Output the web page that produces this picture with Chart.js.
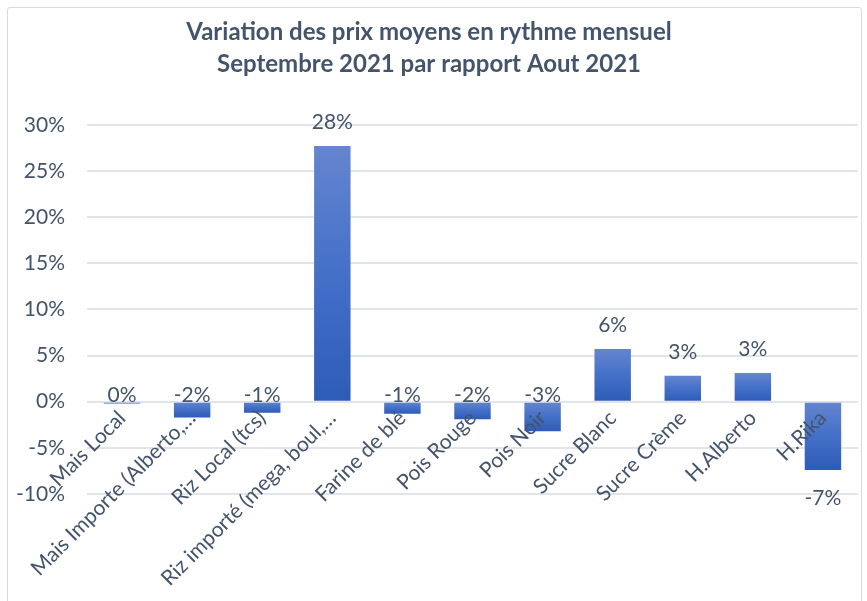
<!DOCTYPE html>
<html>
<head>
<meta charset="utf-8">
<script src="https://cdn.jsdelivr.net/npm/chart.js@4"></script>
<style>
  body { margin: 0; background: #fff; }
  #frame { position: absolute; left: 7px; top: 7px; width: 853px; height: 600px; border: 1px solid #D9D9D9; border-radius: 3px; }
  #wrap { position: absolute; left: 0; top: 0; width: 867px; height: 601px; }
</style>
</head>
<body>
<div id="frame"></div>
<div id="wrap"><canvas id="canvas1"></canvas></div>
<script>
const categories = [
  "Mais Local", "Mais Importe (Alberto,…", "Riz Local (tcs)", "Riz importé (mega, boul,…",
  "Farine de blé", "Pois Rouge", "Pois Noir", "Sucre Blanc", "Sucre Crème", "H.Alberto", "H.Rika"
];
const variations = [-0.2, -1.7, -1.2, 27.7, -1.3, -1.9, -3.2, 5.7, 2.8, 3.1, -7.4];
const yTicks = [-10, -5, 0, 5, 10, 15, 20, 25, 30];

const textColor = "#44546A";
const fontFamily = "Lato, 'Open Sans', sans-serif";

function barGradient(context) {
  const chart = context.chart;
  const y = chart.scales.y;
  if (!y) return "#4472C4";
  const v = variations[context.dataIndex];
  const p1 = y.getPixelForValue(v), p0 = y.getPixelForValue(0);
  if (!isFinite(p1) || !isFinite(p0)) return "#4472C4";
  const top = Math.min(p1, p0), bottom = Math.max(p1, p0);
  const g = chart.ctx.createLinearGradient(0, top, 0, bottom + 0.01);
  g.addColorStop(0, "#6585CF");
  g.addColorStop(0.5, "#4470C8");
  g.addColorStop(1, "#2D5CB6");
  return g;
}

const valueLabels = {
  id: "valueLabels",
  afterDatasetsDraw(chart) {
    const ctx = chart.ctx;
    const meta = chart.getDatasetMeta(0);
    const zero = chart.scales.y.getPixelForValue(0);
    ctx.save();
    ctx.font = "21px " + fontFamily;
    ctx.fillStyle = textColor;
    ctx.textAlign = "center";
    ctx.textBaseline = "middle";
    meta.data.forEach((bar, i) => {
      const v = variations[i];
      let yPos;
      if (v >= 0) yPos = bar.y - 24;
      else if (v > -5) yPos = zero - 6;
      else yPos = bar.y + 28;
      ctx.fillText(`${Math.round(v)}%`, bar.x, yPos);
    });
    ctx.restore();
  }
};

const ctx = document.getElementById("canvas1").getContext("2d");
const chart = new Chart(ctx, {
  type: "bar",
  data: {
    labels: categories,
    datasets: [{
      data: variations,
      backgroundColor: barGradient,
      borderWidth: 0,
      barPercentage: 0.52,
      categoryPercentage: 1
    }]
  },
  options: {
    responsive: true,
    maintainAspectRatio: false,
    animation: false,
    layout: { padding: { left: 0, right: 9, top: 0, bottom: 107 } },
    plugins: {
      legend: { display: false },
      tooltip: { enabled: false },
      title: {
        display: true,
        text: ["Variation des prix moyens en rythme mensuel", "Septembre 2021 par rapport Aout 2021"],
        color: "#44546A",
        font: { family: fontFamily, size: 24, weight: "bold", lineHeight: 1.33 },
        padding: { top: 16, bottom: 45 }
      }
    },
    scales: {
      x: {
        position: { y: 0 },
        grid: { display: false, drawTicks: false },
        border: { display: false },
        ticks: {
          z: 1,
          color: textColor,
          font: { family: fontFamily, size: 21 },
          minRotation: 45,
          maxRotation: 45,
          autoSkip: false,
          padding: 4
        },
        afterFit(scale) { scale.height = 107; }
      },
      y: {
        min: -10,
        max: 30,
        afterBuildTicks(scale) { scale.ticks = yTicks.map(v => ({ value: v })); },
        grid: { color: "#E1E4E9", lineWidth: 2, drawTicks: false },
        border: { display: false },
        ticks: {
          color: textColor,
          font: { family: fontFamily, size: 21 },
          padding: 22,
          callback: v => v + "%"
        },
        afterFit(scale) { scale.width = 87; }
      }
    }
  },
  plugins: [valueLabels]
});
chart.update();
</script>
</body>
</html>
